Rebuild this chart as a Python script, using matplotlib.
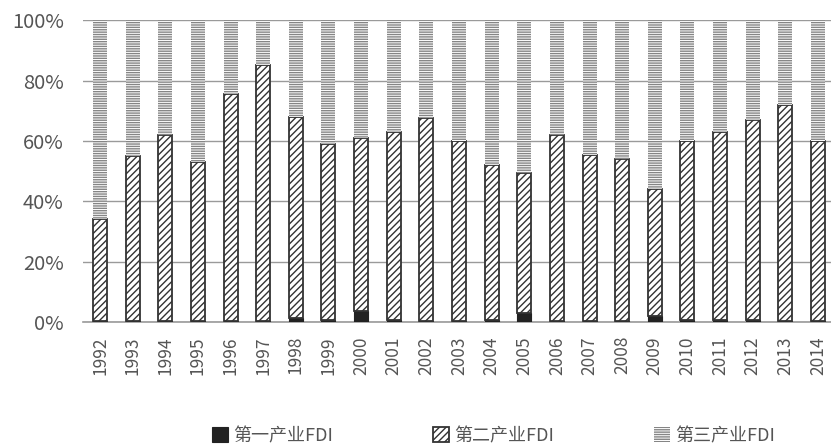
import matplotlib
matplotlib.use('Agg')
import matplotlib.pyplot as plt
import numpy as np

plt.rcParams['font.family'] = ['Noto Sans CJK SC', 'DejaVu Sans']
plt.rcParams['hatch.linewidth'] = 1.0

years = [str(y) for y in range(1992, 2015)]
# share of FDI by sector, percent
primary = [0.5, 0.5, 0.5, 0.5, 0.5, 0.5, 1.5, 0.8, 3.8, 0.6, 0.5, 0.5,
           0.6, 3.0, 0.5, 0.5, 0.5, 2.0, 0.6, 0.8, 0.6, 0.5, 0.5]
top = [34, 55, 62, 53, 75.5, 85, 68, 59, 61, 63, 67.5, 60,
       52, 49.5, 62, 55.5, 54, 44, 60, 63, 67, 72, 60]
secondary = [t - p for t, p in zip(top, primary)]
tertiary = [100 - t for t in top]

x = np.arange(len(years))
w = 0.43

fig = plt.figure(figsize=(8.31, 4.48), dpi=100)
ax = fig.add_axes([0.1, 0.281, 0.9, 0.674])

b1 = ax.bar(x, primary, w, color='#222222', edgecolor='#222222', linewidth=0.8, zorder=3)
b2 = ax.bar(x, secondary, w, bottom=primary, color='white', edgecolor='#333333',
            hatch='/////', linewidth=1.3, zorder=3)
b3 = ax.bar(x, tertiary, w, bottom=top, color='white', edgecolor='#858585',
            hatch='-------', linewidth=0, zorder=3)

ax.set_ylim(0, 100)
ax.set_xlim(-0.52, len(years) - 0.6)
ax.set_yticks(range(0, 101, 20))
ax.set_yticklabels([f'{v}%' for v in range(0, 101, 20)], fontsize=14.5, color='#555555')
ax.set_xticks(x)
ax.set_xticklabels(years, rotation=90, fontsize=12.5, color='#555555')
ax.tick_params(axis='x', length=0, pad=10)
ax.tick_params(axis='y', length=0, pad=14)
ax.yaxis.grid(True, color='#9a9a9a', linewidth=1)
ax.set_axisbelow(True)
for s in ['left', 'right', 'top']:
    ax.spines[s].set_visible(False)
ax.spines['bottom'].set_color('#9a9a9a')
ax.spines['bottom'].set_linewidth(1.2)

fig.legend([b1, b2, b3], ['第一产业FDI', '第二产业FDI', '第三产业FDI'],
           loc='center', bbox_to_anchor=(0.594, 0.027), ncol=3, frameon=False,
           fontsize=13, handlelength=0.9, handleheight=0.9, handletextpad=0.3,
           columnspacing=5.5, labelcolor='#555555')

fig.savefig('out.png', dpi=100)
